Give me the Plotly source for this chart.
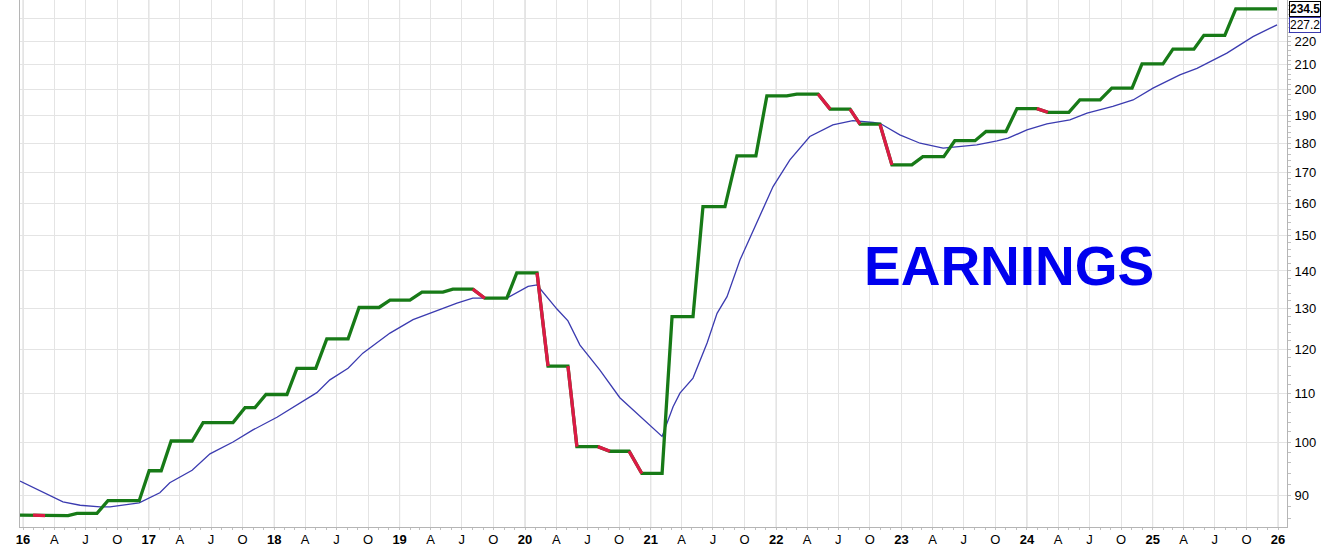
import numpy as np
import pandas as pd
import plotly.graph_objects as go

# ---- data ----
eps_dates = [
    "2015-12-23", "2016-01-30", "2016-03-05", "2016-05-11", "2016-06-06", "2016-08-03", "2016-09-04", "2016-12-04",
    "2017-01-02", "2017-02-06", "2017-03-07", "2017-05-07", "2017-06-08", "2017-09-03", "2017-10-08", "2017-11-06",
    "2017-12-08", "2018-02-07", "2018-03-08", "2018-05-02", "2018-06-03", "2018-08-04", "2018-09-05", "2018-11-02",
    "2018-12-04", "2019-01-31", "2019-03-07", "2019-05-07", "2019-06-05", "2019-08-02", "2019-09-06", "2019-11-09",
    "2019-12-08", "2020-02-05", "2020-03-08", "2020-05-05", "2020-05-31", "2020-07-31", "2020-09-04", "2020-10-30",
    "2020-12-06", "2021-02-03", "2021-03-04", "2021-05-04", "2021-06-02", "2021-08-05", "2021-09-09", "2021-11-03",
    "2021-12-05", "2022-02-01", "2022-03-02", "2022-05-03", "2022-06-07", "2022-08-04", "2022-09-02", "2022-10-30",
    "2022-12-04", "2023-01-31", "2023-03-04", "2023-05-04", "2023-06-05", "2023-08-03", "2023-09-04", "2023-11-01",
    "2023-12-03", "2024-01-30", "2024-03-02", "2024-05-02", "2024-06-03", "2024-08-01", "2024-09-04", "2024-11-02",
    "2024-12-01", "2025-01-31", "2025-03-01", "2025-05-01", "2025-05-30", "2025-07-30", "2025-08-31", "2025-12-29",
]
eps_values = [
    86.6, 86.6, 86.5, 86.5, 86.9, 86.9, 89.1, 89.1,
    94.5, 94.5, 100.2, 100.2, 103.9, 103.9, 107.0, 107.0,
    109.8, 109.8, 115.6, 115.6, 122.5, 122.5, 130.3, 130.3,
    132.2, 132.2, 134.3, 134.3, 135.1, 135.1, 132.7, 132.7,
    139.5, 139.5, 116.1, 116.1, 99.1, 99.1, 98.2, 98.2,
    94.0, 94.0, 128.0, 128.0, 158.9, 158.9, 175.6, 175.6,
    197.6, 197.6, 198.3, 198.3, 192.5, 192.5, 186.9, 186.9,
    172.5, 172.5, 175.3, 175.3, 180.9, 180.9, 184.2, 184.2,
    192.7, 192.7, 191.3, 191.3, 196.0, 196.0, 200.6, 200.6,
    210.4, 210.4, 216.6, 216.6, 222.6, 222.6, 234.5, 234.5,
]

avg_dates = [
    "2015-12-23", "2016-01-30", "2016-02-28", "2016-04-26", "2016-06-15", "2016-08-12", "2016-09-10", "2016-12-04",
    "2017-02-02", "2017-03-03",
    "2017-05-07", "2017-06-28", "2017-09-03", "2017-10-31", "2018-01-09", "2018-03-08", "2018-05-05", "2018-06-12",
    "2018-08-04", "2018-09-16", "2018-12-04", "2019-02-09", "2019-04-20", "2019-06-17", "2019-08-02", "2019-11-09",
    "2020-01-10", "2020-02-05", "2020-04-03", "2020-05-05", "2020-06-09", "2020-08-06", "2020-10-03", "2020-12-01",
    "2021-02-03", "2021-03-07", "2021-03-27", "2021-05-04", "2021-06-14", "2021-07-13", "2021-08-11", "2021-09-18",
    "2021-11-06", "2021-12-23", "2022-02-10", "2022-04-09", "2022-06-15", "2022-08-12", "2022-10-10", "2022-10-30",
    "2022-12-27", "2023-02-24", "2023-05-02", "2023-06-11", "2023-08-08", "2023-10-06", "2023-11-07", "2024-01-01",
    "2024-02-28", "2024-05-05", "2024-06-24", "2024-09-07", "2024-11-05", "2025-01-02", "2025-03-21", "2025-05-10",
    "2025-08-05", "2025-10-20", "2025-12-29",
]
avg_values = [
    92.6, 91.5, 90.6, 88.9, 88.3, 88.0, 88.0, 88.7,
    90.5, 92.3,
    94.6, 97.7, 100.0, 102.4, 105.0, 107.6, 110.2, 113.0,
    115.6, 119.1, 123.9, 127.2, 129.5, 131.4, 132.7, 132.7,
    135.8, 136.2, 129.9, 126.9, 121.0, 115.2, 109.1, 105.1,
    101.1, 107.2, 110.1, 113.4, 121.5, 128.8, 133.1, 143.1,
    153.8, 165.3, 174.2, 182.4, 186.6, 188.2, 187.5, 187.2,
    183.0, 180.0, 178.3, 178.8, 179.4, 180.8, 181.8, 184.8,
    187.0, 188.5, 191.0, 193.5, 196.0, 200.6, 205.9, 208.6,
    214.9, 222.0, 227.2,
]

y_ticks = [90, 100, 110, 120, 130, 140, 150, 160, 170, 180, 190, 200, 210, 220, 230]
y_ticklabels = ["90", "100", "110", "120", "130", "140", "150", "160", "170", "180", "190", "200", "210", "220", ""]
years = list(range(2016, 2027))
quarter_letters = {1: None, 4: "A", 7: "J", 10: "O"}

x_range = ["2015-12-23", "2026-01-27"]
y_range = [84.6, 238.6]

# ---- build ----
GREEN = "#177a17"
RED = "#dc1a45"
BLUE = "#3b3bb0"
FONT = "Liberation Sans, Arial, sans-serif"

fig = go.Figure()

# moving average (blue)
fig.add_trace(go.Scatter(x=avg_dates, y=avg_values, mode="lines",
                         line=dict(color=BLUE, width=1.3), hoverinfo="skip", showlegend=False))

# EPS line (green) and falling segments (red)
fig.add_trace(go.Scatter(x=eps_dates, y=eps_values, mode="lines",
                         line=dict(color=GREEN, width=3.3), hoverinfo="skip", showlegend=False))
rx, ry = [], []
for i in range(len(eps_values) - 1):
    if eps_values[i + 1] < eps_values[i]:
        rx += [eps_dates[i], eps_dates[i + 1], None]
        ry += [eps_values[i], eps_values[i + 1], None]
fig.add_trace(go.Scatter(x=rx, y=ry, mode="lines", line=dict(color=RED, width=3.3),
                         hoverinfo="skip", showlegend=False, connectgaps=False))

# x ticks: quarters
tickvals, ticktext = [], []
for yr in years:
    for m, lab in quarter_letters.items():
        if yr == years[-1] and m > 1:
            continue
        tickvals.append(f"{yr}-{m:02d}-01")
        ticktext.append(f"<b>{yr % 100:02d}</b>" if lab is None else lab)
minor_x = [f"{yr}-{m:02d}-01" for yr in years for m in range(1, 13)]

# darker year grid lines
for yr in years:
    fig.add_shape(type="line", xref="x", yref="paper", x0=f"{yr}-01-01", x1=f"{yr}-01-01",
                  y0=0, y1=1, line=dict(color="#cfcfcf", width=1), layer="below")

fig.update_layout(
    width=1324, height=550,
    margin=dict(l=20, r=37, t=0, b=23),
    paper_bgcolor="white", plot_bgcolor="white",
    font=dict(family=FONT, size=13, color="black"),
    xaxis=dict(type="date", range=x_range, tickmode="array", tickvals=tickvals, ticktext=ticktext,
               showgrid=True, gridcolor="#e4e4e4", gridwidth=1, zeroline=False,
               showline=True, linecolor="#b5b5b5", linewidth=1,
               ticks="", tickfont=dict(size=13, color="black", family=FONT),
               minor=dict(tickmode="array", tickvals=minor_x, ticks="outside", ticklen=2,
                          tickcolor="#c0c0c0", showgrid=False)),
    yaxis=dict(type="log", side="right", range=[np.log10(y_range[0]), np.log10(y_range[1])],
               tickmode="array", tickvals=y_ticks, ticktext=y_ticklabels,
               showgrid=True, gridcolor="#e4e4e4", gridwidth=1, zeroline=False,
               showline=True, mirror=True, linecolor="#b5b5b5", linewidth=1,
               ticks="", ticklabelstandoff=4, tickfont=dict(size=13, color="black", family=FONT),
               minor=dict(tickmode="array", tickvals=list(range(86, 238, 2)), ticks="outside", ticklen=3,
                          tickcolor="#c0c0c0", showgrid=False)),
)

# title text
fig.add_annotation(xref="paper", yref="paper", x=(1009 - 20) / 1267, y=1 - 266 / 527,
                   text="<b>EARNINGS</b>", showarrow=False, xanchor="center", yanchor="middle",
                   font=dict(family=FONT, size=55, color="#0000ee"))

# last-value tags
fig.add_annotation(xref="paper", yref="y", x=1, y=np.log10(eps_values[-1]), xanchor="left", xshift=2,
                   text=f"<b>{eps_values[-1]:.1f}</b>", showarrow=False,
                   font=dict(family=FONT, size=12, color="black"),
                   bgcolor="white", bordercolor="black", borderwidth=1, borderpad=0)
fig.add_annotation(xref="paper", yref="y", x=1, y=np.log10(avg_values[-1]), xanchor="left", xshift=2,
                   text=f"{avg_values[-1]:.1f}", showarrow=False,
                   font=dict(family=FONT, size=12, color="black"),
                   bgcolor="white", bordercolor=BLUE, borderwidth=1, borderpad=0)

fig.write_html("out.html", config={"displayModeBar": False},
               post_script="document.body.style.margin='0';document.body.style.overflow='hidden';")
